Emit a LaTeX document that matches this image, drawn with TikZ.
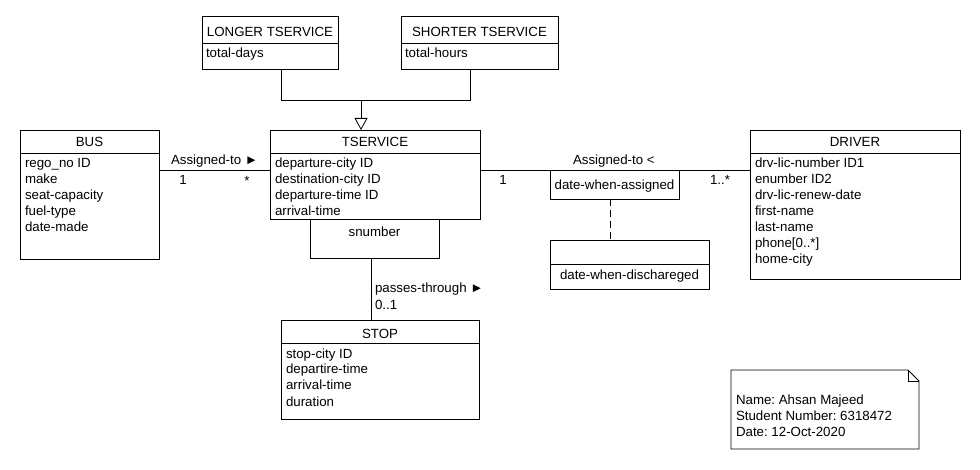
\documentclass[tikz,border=0pt]{standalone}
\usepackage{fontspec}
\setmainfont{Liberation Sans}
\usetikzlibrary{arrows.meta}
\frenchspacing
\newcommand\attrlist[1]{\begin{tabular}[t]{@{}l@{}}#1\end{tabular}}
\begin{document}
\begin{tikzpicture}[x=1pt,y=-1pt,
  font=\fontsize{13.3}{16}\selectfont,
  every node/.style={inner sep=0pt, outer sep=0pt},
  box/.style={draw, line width=0.8pt, anchor=north west},
  txt/.style={anchor=base west},
  ctxt/.style={anchor=base},
  conn/.style={line width=0.8pt}]
\useasboundingbox[fill=white] (0,0) rectangle (980,470);

% ---- classes ----
\node[box, minimum width=139pt, minimum height=129pt] (bus) at (20,130) {};
\draw[conn] ([yshift=-23pt]bus.north west) -- ([yshift=-23pt]bus.north east);
\node[ctxt] (busH) at (89.5,147) {BUS};
\node[txt] (busA) at (25,168) {\attrlist{rego\_no ID\\make\\seat-capacity\\fuel-type\\date-made}};

\node[box, minimum width=210pt, minimum height=89pt] (ts) at (270,130) {};
\draw[conn] ([yshift=-23pt]ts.north west) -- ([yshift=-23pt]ts.north east);
\node[ctxt] (tsH) at (375,147) {TSERVICE};
\node[txt] (tsA) at (275,168) {\attrlist{departure-city ID\\destination-city ID\\departure-time ID\\arrival-time}};

\node[box, minimum width=129pt, minimum height=39pt] (sn) at (310,219) {};
\node[ctxt] (snT) at (374.5,237) {snumber};

\node[box, minimum width=210pt, minimum height=149pt] (drv) at (750,130) {};
\draw[conn] ([yshift=-23pt]drv.north west) -- ([yshift=-23pt]drv.north east);
\node[ctxt] (drvH) at (855,147) {DRIVER};
\node[txt] (drvA) at (755,168) {\attrlist{drv-lic-number ID1\\enumber ID2\\drv-lic-renew-date\\first-name\\last-name\\phone[0..*]\\home-city}};

\node[box, minimum width=136pt, minimum height=53pt] (lng) at (202,16) {};
\draw[conn] ([yshift=-27pt]lng.north west) -- ([yshift=-27pt]lng.north east);
\node[ctxt] (lngH) at (270,37) {LONGER TSERVICE};
\node[txt] (lngA) at (206,58) {total-days};

\node[box, minimum width=157pt, minimum height=53pt] (sht) at (401,16) {};
\draw[conn] ([yshift=-27pt]sht.north west) -- ([yshift=-27pt]sht.north east);
\node[ctxt] (shtH) at (479.5,37) {SHORTER TSERVICE};
\node[txt] (shtA) at (405,58) {total-hours};

\node[box, minimum width=198pt, minimum height=99pt] (stop) at (281,320) {};
\draw[conn] ([yshift=-23pt]stop.north west) -- ([yshift=-23pt]stop.north east);
\node[ctxt] (stopH) at (380,338) {STOP};
\node[txt] (stopA) at (286,358) {\attrlist{stop-city ID\\departire-time\\arrival-time\\duration}};

% association class boxes
\node[box, minimum width=129pt, minimum height=29pt] (dwa) at (550,170) {};
\node[ctxt] (dwaT) at (614.5,190) {date-when-assigned};

\node[box, minimum width=159pt, minimum height=49pt] (dwd) at (550,240) {};
\draw[conn] ([yshift=-24pt]dwd.north west) -- ([yshift=-24pt]dwd.north east);
\node[ctxt] (dwdT) at (629.5,280) {date-when-dischareged};

% ---- connectors ----
\draw[conn] ([yshift=-40pt]bus.north east) -- ([yshift=-40pt]ts.north west);
\node[txt] (l1) at (171,165) {Assigned-to ►};
\node[ctxt] (m1) at (183,185) {1};
\node[ctxt] (m2) at (247,186) {*};

\draw[conn] ([yshift=-40pt]ts.north east) -- ([yshift=-40pt]drv.north west);
\node[txt] (l2) at (573,165) {Assigned-to <};
\node[ctxt] (m3) at (503,185) {1};
\node[txt] (m4) at (710,185) {1..*};

\coordinate (dx) at (610,0);
\draw[conn, dash pattern=on 7pt off 4pt] (dwa.south -| dx) -- (dwd.north -| dx);

\coordinate (gl) at (281,0);
\coordinate (gr) at (470,0);
\coordinate (gm) at (361,0);
\coordinate (gh) at (0,100);
\draw[conn] (lng.south -| gl) -- (gl |- gh) -- (gr |- gh) -- (sht.south -| gr);
\draw[conn, -{Triangle[open, width=13pt, length=12pt, line width=0.8pt]}] (gm |- gh) -- (ts.north -| gm);

\coordinate (px) at (371,0);
\draw[conn] (sn.south -| px) -- (stop.north -| px);
\node[txt] (l3) at (375,293) {passes-through ►};
\node[txt] (m5) at (375,309) {0..1};

% ---- note ----
\draw[conn] (731,370) -- (908,370) -- (919,381) -- (919,449) -- (731,449) -- cycle;
\draw[conn] (908,370) -- (908,381) -- (919,381);
\node[txt] (note) at (736,404) {\attrlist{Name: Ahsan Majeed\\Student Number: 6318472\\Date: 12-Oct-2020}};
\end{tikzpicture}
\end{document}
